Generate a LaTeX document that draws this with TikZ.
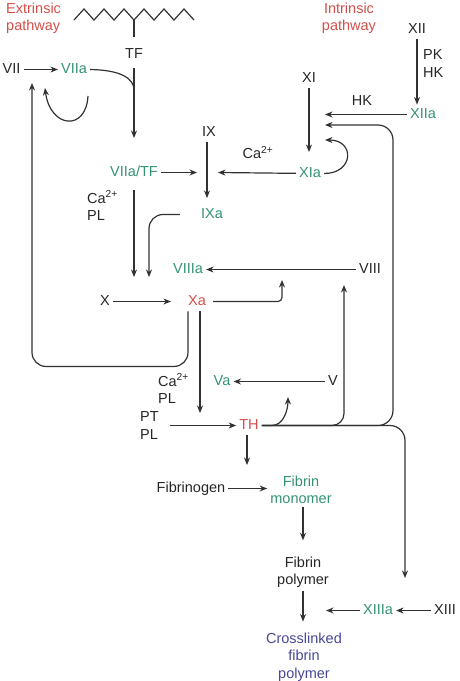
\documentclass[tikz,border=0pt]{standalone}
\usepackage{fontspec}
\setmainfont{Liberation Sans}
\usetikzlibrary{arrows.meta}
\definecolor{pathred}{RGB}{212,78,74}
\definecolor{actgreen}{RGB}{52,146,114}
\definecolor{clotblue}{RGB}{72,72,152}
\definecolor{ink}{RGB}{50,50,50}
\begin{document}
\begin{tikzpicture}[x=1pt,y=-1pt,
    lbl/.style={font=\fontsize{14.5}{17.5}\selectfont, text=black!85, inner sep=3pt},
    fac/.style={lbl, text height=10.5pt, text depth=3pt},
    act/.style={fac, text=actgreen},
    key/.style={fac, text=pathred},
    two/.style={lbl, align=center},
    link/.style={draw=ink, line width=1.2pt},
    >={Stealth[length=7.5pt,width=6pt]}]
            \useasboundingbox (0,0) rectangle (460,681);

            % titles
            \node[two, align=left, anchor=west, text=pathred] (ext) at (3,18) {Extrinsic\\pathway};
            \node[two, text=pathred] (int) at (349,18) {Intrinsic\\pathway};

            % membrane
            \draw[link] (74,20) foreach \k in {0,...,5} { -- ({84+20*\k},9) -- ({94+20*\k},20) };
            \coordinate (mem) at (134,20);

            % vertices
            \node[fac] (tf) at (134,54.5) {TF};
            \node[fac] (f7) at (11.5,69.5) {VII};
            \node[act] (f7a) at (74,69.5) {VIIa};
            \node[act] (f7atf) at (134,172.5) {VIIa/TF};
            \node[fac] (f9) at (209,132.5) {IX};
            \node[act] (f9a) at (212,214.5) {IXa};
            \node[fac] (f11) at (309,78.5) {XI};
            \node[act] (f11a) at (310,173.5) {XIa};
            \node[fac] (f12) at (417,29.5) {XII};
            \node[act] (f12a) at (423,114.5) {XIIa};
            \node[two, align=left, anchor=west] (pkhk) at (420,63.7) {PK\\HK};
            \node[fac] (hk) at (362,101.5) {HK};
            \node[fac] (ca) at (258,154.5) {Ca\textsuperscript{2+}};
            \node[two, align=left, anchor=west] (capl1) at (84,205.7) {Ca\textsuperscript{2+}\\PL};
            \node[fac] (f8) at (370,269.5) {VIII};
            \node[act] (f8a) at (188,269.5) {VIIIa};
            \node[fac] (f10) at (105,301.5) {X};
            \node[key] (f10a) at (197,301.5) {Xa};
            \node[two, align=left, anchor=west] (capl2) at (155,388.7) {Ca\textsuperscript{2+}\\PL};
            \node[two, align=left, anchor=west] (ptpl) at (137,425.7) {PT\\PL};
            \node[fac] (f5) at (333,381.5) {V};
            \node[act] (f5a) at (222,381.5) {Va};
            \node[key] (th) at (249,425.5) {TH};
            \node[fac] (fgn) at (191,488.5) {Fibrinogen};
            \node[two, text=actgreen] (fmono) at (301,489.7) {Fibrin\\monomer};
            \node[two] (fpoly) at (303,572) {Fibrin\\polymer};
            \node[two, text=clotblue] (fcross) at (304,657) {Crosslinked\\fibrin\\polymer};
            \node[act] (f13a) at (378,610.5) {XIIIa};
            \node[fac] (f13) at (445,610.5) {XIII};

            % free ends
            \coordinate (j7) at (134,90);
            \coordinate (tfend) at (134,138);
            \coordinate (f7in) at (32,83);
            \coordinate (f7loop) at (88,96);
            \coordinate (f7in2) at (45,88);
            \coordinate (f9l) at (197,172.5);
            \coordinate (f9r) at (218,172.5);
            \coordinate (f9dn) at (207,198);
            \coordinate (x7) at (134,277);
            \coordinate (x9a) at (149,277);
            \coordinate (f11dn) at (309,152);
            \coordinate (f11hk) at (325,114.5);
            \coordinate (f11ca) at (325,140);
            \coordinate (f11th) at (325,125);
            \coordinate (rise) at (393,125);
            \coordinate (f8ain) at (282,280);
            \coordinate (f8up) at (344,285);
            \coordinate (f5up) at (288,397);
            \coordinate (thin) at (200,413);
            \coordinate (fmin) at (247,465);
            \coordinate (x13) at (405,578);
            \coordinate (fcin) at (326,610.5);

            % edges
            \draw[link] (mem) -- ([yshift=8pt]tf.north);
            \draw[link,->,shorten <=4pt] (tf) -- (tfend);
            \draw[link] (f7a.east) .. controls (120,70) and (134,78) .. (j7);
            \draw[link,->] (f7) -- (f7a);
            \draw[link,->] (f7loop) .. controls (86,132) and (50,128) .. (f7in2);
            \draw[link,->,rounded corners=14pt] ([xshift=-9pt]f10a.south) -- ++(0,55) -| (f7in);
            \draw[link,->] (f7atf) -- (f9l);
            \draw[link,->] (f11a) -- (f9r);
            \draw[link,->] (f9.south -| f9dn) -- (f9dn);
            \draw[link,->,shorten <=8pt] (f7atf.south) -- (x7);
            \draw[link,->,rounded corners=14pt] ([xshift=-18pt]f9a.west) -| (x9a);
            \draw[link,->] (f11) -- (f11dn);
            \draw[link,->] (f11a.east) .. controls +(30,0) and +(30,0) .. (f11ca);
            \draw[link,->] (f12) -- (f12 |- f12a.north);
            \draw[link,->] (f12a) -- (f11hk);
            \draw[link,->] (f8) -- (f8a);
            \draw[link,->,shorten >=14pt] (f10) -- (f10a);
            \draw[link,->,rounded corners=4pt] ([xshift=4pt]f10a.east) -| (f8ain);
            \draw[link,->] (f10a.south -| thin) -- (thin);
            \draw[link,->,shorten <=8pt] (ptpl.east |- th) -- (th);
            \draw[link,->] (f5) -- (f5a);
            \draw[link,->] (th.east) -- ([xshift=10pt]th.east) .. controls ([xshift=22pt]th.east) and ([yshift=-12pt]f5up) .. (f5up);
            \draw[link,->,rounded corners=12pt] (th.east) -| (f8up);
            \draw[link,->,rounded corners=15pt] (th.east) -| (rise) -- (f11th);
            \draw[link,->,rounded corners=15pt] (th.east) -| (x13);
            \draw[link,->] (th.south -| fmin) -- (fmin);
            \draw[link,->] (fgn) -- (fgn -| fmono.west);
            \draw[link,->,shorten >=13pt] (fpoly |- fmono.south) -- (fpoly.north);
            \draw[link,->,shorten >=8pt] (fpoly.south) -- (fpoly |- fcross.north);
            \draw[link,->] (f13) -- (f13a);
            \draw[link,->] (f13a) -- (fcin);
\end{tikzpicture}
\end{document}
